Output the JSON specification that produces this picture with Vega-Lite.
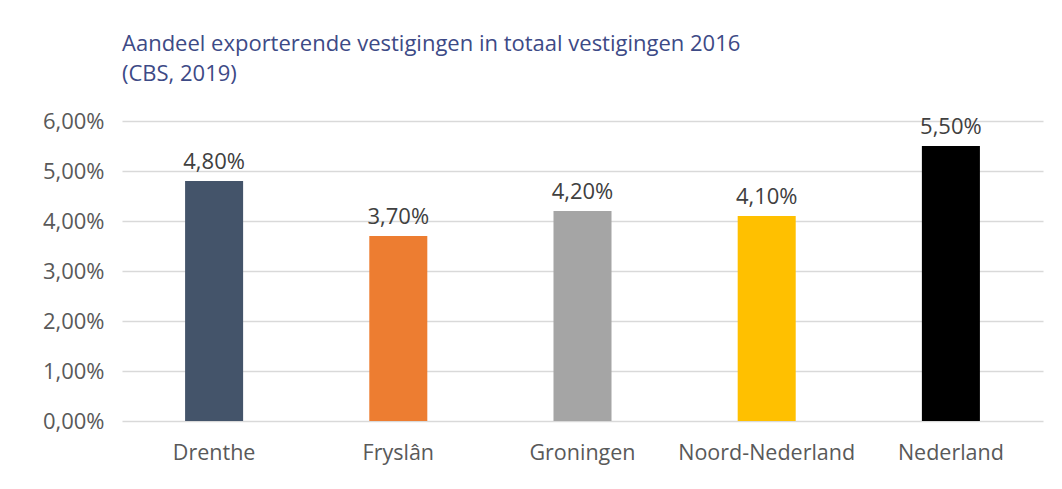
{
  "$schema": "https://vega.github.io/schema/vega-lite/v6.json",
  "width": 921,
  "height": 300,
  "autosize": {"type": "none"},
  "padding": {"left": 122, "top": 121, "right": 19, "bottom": 68},
  "background": "white",
  "config": {
    "locale": {"number": {"decimal": ",", "thousands": ".", "grouping": [3], "currency": ["€", ""]}},
    "view": {"stroke": null},
    "font": "Open Sans"
  },
  "title": {
    "text": ["Aandeel exporterende vestigingen in totaal vestigingen 2016", "(CBS, 2019)"],
    "anchor": "start",
    "frame": "group",
    "color": "#3d4a86",
    "font": "Open Sans",
    "fontSize": 22,
    "fontWeight": "normal",
    "lineHeight": 30,
    "offset": 24
  },
  "data": {
    "values": [
      {"regio": "Drenthe", "aandeel": 0.048},
      {"regio": "Fryslân", "aandeel": 0.037},
      {"regio": "Groningen", "aandeel": 0.042},
      {"regio": "Noord-Nederland", "aandeel": 0.041},
      {"regio": "Nederland", "aandeel": 0.055}
    ]
  },
  "encoding": {
    "x": {
      "field": "regio",
      "type": "nominal",
      "sort": null,
      "scale": {"paddingInner": 0.685, "paddingOuter": 0.3425},
      "axis": {
        "title": null,
        "labelAngle": 0,
        "labelFontSize": 21.5,
        "labelColor": "#595959",
        "labelPadding": 21,
        "ticks": false,
        "domain": false
      }
    },
    "y": {
      "field": "aandeel",
      "type": "quantitative",
      "scale": {"domain": [0, 0.06]},
      "axis": {
        "title": null,
        "format": ".2%",
        "values": [0, 0.01, 0.02, 0.03, 0.04, 0.05, 0.06],
        "labelOverlap": false,
        "labelFontSize": 22,
        "labelColor": "#595959",
        "labelPadding": 18,
        "ticks": false,
        "domain": false,
        "gridColor": "#d9d9d9",
        "gridWidth": 1.5
      }
    }
  },
  "layer": [
    {
      "mark": {"type": "bar"},
      "encoding": {
        "color": {
          "field": "regio",
          "type": "nominal",
          "scale": {
            "domain": ["Drenthe", "Fryslân", "Groningen", "Noord-Nederland", "Nederland"],
            "range": ["#44546a", "#ed7d31", "#a5a5a5", "#ffc000", "#000000"]
          },
          "legend": null
        }
      }
    },
    {
      "mark": {"type": "text", "baseline": "bottom", "dy": -7, "fontSize": 22, "color": "#404040"},
      "encoding": {
        "text": {"field": "aandeel", "type": "quantitative", "format": ".2%"}
      }
    }
  ]
}
